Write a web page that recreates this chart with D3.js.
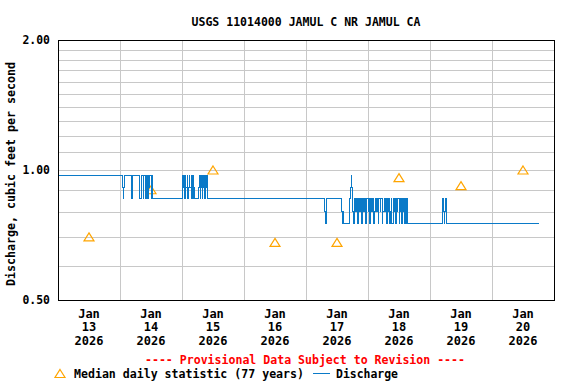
<!DOCTYPE html>
<html>
<head>
<meta charset="utf-8">
<script src="https://cdn.jsdelivr.net/npm/d3@7"></script>
<style>
body{margin:0;background:#fff;}
text{font-family:"DejaVu Sans Mono",monospace;font-weight:bold;fill:#000;}
</style>
</head>
<body>
<div class="canvas"></div>
<script>
// chart text
const title='USGS 11014000 JAMUL C NR JAMUL CA';
const yLabel='Discharge, cubic feet per second';
const dayLabels=['13','14','15','16','17','18','19','20'];
const yTickValues=[0.5,1,2];
const yGridValues=[0.6,0.7,0.8,0.9,1.0,1.1,1.2,1.3,1.4,1.5,1.6,1.7,1.8,1.9];

// median daily statistic (hours after Jan 13 00:00, cfs)
const medianHours=[12,36,60,84,108,132,156,180];
const medianValues=[0.70,0.90,1.00,0.68,0.68,0.96,0.92,1.00];

// discharge change points (hours after Jan 13 00:00, cfs), drawn as steps
const flowHours=[
  0,
  25.0,25.25,25.5,25.75,28.5,28.75,
  31.5,32.25,32.5,33.0,33.25,33.75,34.0,34.25,34.75,35.0,35.25,35.5,36.0,36.25,36.5,36.75,
  48.25,48.5,48.75,49.0,49.25,49.5,50.0,50.25,50.5,50.75,51.0,51.5,51.75,52.0,52.25,52.5,52.75,53.0,
  54.5,54.75,55.0,55.25,55.5,55.75,56.0,56.25,56.5,56.75,57.0,57.25,57.5,57.75,58.0,
  103.25,103.5,103.75,
  109.75,110.0,110.25,110.5,
  113.0,113.25,113.5,113.75,114.0,114.25,
  114.75,115.25,115.5,116.0,116.25,116.75,117.0,117.5,117.75,118.25,118.75,119.0,119.25,119.5,
  120.0,120.25,120.75,121.0,121.5,121.75,122.25,122.5,122.75,123.25,123.5,124.0,124.25,124.75,
  125.0,125.5,125.75,126.25,126.5,126.75,127.0,127.5,127.75,128.0,128.5,128.75,129.0,129.25,
  129.75,130.0,130.25,130.75,131.0,131.25,131.5,132.0,132.25,132.75,133.0,133.5,133.75,134.0,
  134.25,134.5,134.75,135.0,135.25,135.5,
  148.75,149.0,149.25,149.5,149.75,150.0,150.25,150.5,
  186.0
];
const flowValues=[
  0.97,
  0.91,0.86,0.91,0.97,0.86,0.97,
  0.86,0.91,0.97,0.86,0.97,0.91,0.86,0.97,0.86,0.97,0.91,0.97,0.86,0.91,0.97,0.86,
  0.97,0.91,0.97,0.86,0.97,0.91,0.97,0.86,0.91,0.97,0.91,0.97,0.86,0.91,0.97,0.86,0.91,0.86,
  0.91,0.97,0.86,0.97,0.91,0.86,0.97,0.91,0.97,0.86,0.91,0.97,0.91,0.97,0.86,
  0.80,0.75,0.86,
  0.80,0.75,0.80,0.75,
  0.86,0.91,0.97,0.91,0.80,0.75,
  0.86,0.80,0.86,0.75,0.86,0.80,0.86,0.75,0.86,0.80,0.86,0.75,0.80,0.86,
  0.80,0.86,0.75,0.86,0.80,0.86,0.75,0.80,0.86,0.80,0.86,0.75,0.86,0.80,
  0.86,0.75,0.80,0.86,0.80,0.86,0.75,0.86,0.80,0.86,0.75,0.80,0.86,0.75,
  0.86,0.80,0.86,0.75,0.86,0.80,0.86,0.75,0.80,0.86,0.75,0.86,0.80,0.75,
  0.86,0.75,0.80,0.86,0.75,0.75,
  0.80,0.86,0.80,0.75,0.80,0.86,0.80,0.75,
  0.75
];

const start=Date.UTC(2026,0,13);
const toDate=h=>new Date(start+h*3600000);

const svg=d3.select('.canvas')
      .append('svg')
        .attr('width',576)
        .attr('height',384);

const margin={top:40,left:58};
const graphWidth=496;
const graphHeight=260;

const x=d3.scaleUtc()
      .domain([new Date(start),toDate(192)])
      .range([margin.left,margin.left+graphWidth]);
const y=d3.scaleLog()
      .domain([0.5,2])
      .range([margin.top+graphHeight,margin.top]);

// grid
svg.append('g')
   .attr('transform',`translate(${margin.left},0)`)
   .call(d3.axisLeft(y).tickValues(yGridValues).tickSize(-graphWidth).tickFormat(''))
   .call(g=>g.select('.domain').remove())
   .call(g=>g.selectAll('line').attr('stroke','#c8c8c8').attr('shape-rendering','crispEdges'));
svg.append('g')
   .attr('transform',`translate(0,${margin.top+graphHeight})`)
   .call(d3.axisBottom(x).ticks(d3.utcDay.every(1)).tickSize(-graphHeight).tickFormat(''))
   .call(g=>g.select('.domain').remove())
   .call(g=>g.selectAll('line').attr('stroke','#c8c8c8').attr('shape-rendering','crispEdges'));

// y tick labels
svg.append('g')
   .attr('transform',`translate(${margin.left},0)`)
   .call(d3.axisLeft(y).tickValues(yTickValues).tickSize(0).tickPadding(8).tickFormat(d3.format('.2f')))
   .call(g=>g.select('.domain').remove())
   .call(g=>g.selectAll('text').attr('font-size',12).attr('fill','#000')
        .attr('textLength',27.5).attr('lengthAdjust','spacingAndGlyphs'));

// x tick labels: Jan / day / year at noon
const xl=svg.append('g');
dayLabels.forEach((d,i)=>{
  const cx=x(toDate(i*24+12));
  const t=xl.append('text')
      .attr('text-anchor','middle')
      .attr('font-size',12);
  t.append('tspan').attr('x',cx).attr('y',318).text('Jan');
  t.append('tspan').attr('x',cx).attr('y',331).text(d);
  t.append('tspan').attr('x',cx).attr('y',345).text('2026');
});

// median triangles (under the line)
const tri='M0,-4L5,4L-5,4Z';
svg.append('g').selectAll('path')
   .data(d3.zip(medianHours,medianValues))
   .enter().append('path')
   .attr('d',tri)
   .attr('fill','none')
   .attr('stroke','#ffa500')
   .attr('stroke-width',1.2)
   .attr('transform',d=>`translate(${x(toDate(d[0]))},${y(d[1])})`);

// discharge line
const flow=d3.zip(flowHours,flowValues);
svg.append('path')
   .datum(flow)
   .attr('fill','none')
   .attr('stroke','#0a7ac8')
   .attr('stroke-width',1)
   .attr('shape-rendering','crispEdges')
   .attr('d',d3.line().x(d=>x(toDate(d[0]))).y(d=>y(d[1])).curve(d3.curveStepAfter));

// frame
svg.append('rect')
   .attr('x',margin.left).attr('y',margin.top)
   .attr('width',graphWidth).attr('height',graphHeight)
   .attr('fill','none').attr('stroke','#000').attr('stroke-width',1)
   .attr('shape-rendering','crispEdges');

// title and labels
svg.append('text')
   .attr('x',306).attr('y',26)
   .attr('text-anchor','middle')
   .attr('font-size',11.5)
   .attr('textLength',229).attr('lengthAdjust','spacingAndGlyphs')
   .text(title);

svg.append('text')
   .attr('transform','translate(15,174) rotate(-90)')
   .attr('text-anchor','middle')
   .attr('font-size',12)
   .attr('textLength',224).attr('lengthAdjust','spacingAndGlyphs')
   .text(yLabel);

svg.append('text')
   .attr('x',305).attr('y',364)
   .attr('text-anchor','middle')
   .attr('font-size',12)
   .attr('textLength',320).attr('lengthAdjust','spacingAndGlyphs')
   .style('fill','#ff0000')
   .text('---- Provisional Data Subject to Revision ----');

// legend
svg.append('path')
   .attr('d',tri)
   .attr('fill','none').attr('stroke','#ffa500').attr('stroke-width',1.2)
   .attr('transform','translate(60,373.5)');
svg.append('text')
   .attr('x',74).attr('y',378)
   .attr('font-size',12)
   .attr('textLength',230).attr('lengthAdjust','spacingAndGlyphs')
   .text('Median daily statistic (77 years)');
svg.append('line')
   .attr('x1',313).attr('x2',330).attr('y1',373.5).attr('y2',373.5)
   .attr('stroke','#0a7ac8').attr('stroke-width',1);
svg.append('text')
   .attr('x',336).attr('y',378)
   .attr('font-size',12)
   .attr('textLength',62).attr('lengthAdjust','spacingAndGlyphs')
   .text('Discharge');
</script>
</body>
</html>
